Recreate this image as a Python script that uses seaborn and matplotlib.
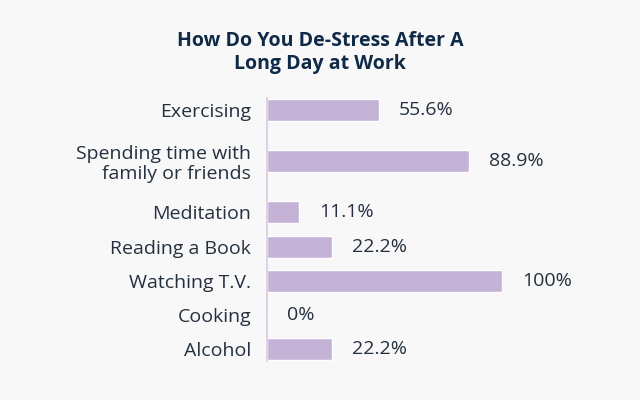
import numpy as np
import pandas as pd
import matplotlib
matplotlib.use("Agg")
import matplotlib.pyplot as plt
import seaborn as sns

# data
activities = ["Exercising", "Spending time with\nfamily or friends", "Meditation",
              "Reading a Book", "Watching T.V.", "Cooking", "Alcohol"]
bar_lengths = [47.7, 86.0, 13.6, 27.7, 100.0, 0.0, 27.7]   # drawn bar length, % of axis
value_labels = ["55.6%", "88.9%", "11.1%", "22.2%", "100%", "0%", "22.2%"]

BG = "#f8f8f8"
BAR = "#c5b3d7"
TEXT = "#24303f"
TITLE = "#0e2a47"

# row centres: single-line rows are 34 px apart, two-line rows take extra room
lines = [a.count("\n") + 1 for a in activities]
ypos = [0.0]
for prev, cur in zip(lines[:-1], lines[1:]):
    ypos.append(ypos[-1] + 34 + 17 * (prev - 1) + 17 * (cur - 1))

df = pd.DataFrame({"activity": activities, "value": bar_lengths, "y": ypos})

sns.set_theme(style="white")
plt.rcParams["font.family"] = ["Open Sans", "DejaVu Sans"]

fig = plt.figure(figsize=(6.4, 4.0), dpi=100, facecolor=BG)
# axes: x from 267 px to 502 px, y from 98 px to 361 px (top-down)
ax = fig.add_axes([267 / 640, 39 / 400, 235 / 640, 263 / 400], facecolor=BG)

sns.barplot(data=df, x="value", y="y", orient="h", native_scale=True,
            width=22 / 34, color=BAR, saturation=1, ax=ax)

ax.set_xlim(0, 100)
ax.set_ylim(ypos[-1] + 12, -12)
ax.set_yticks(ypos)
ax.set_yticklabels(activities, fontsize=14, color=TEXT, linespacing=1.15)
ax.tick_params(axis="y", length=0, pad=11.5)
ax.set_xticks([])
ax.set_xlabel("")
ax.set_ylabel("")
for side in ["top", "right", "bottom"]:
    ax.spines[side].set_visible(False)
ax.spines["left"].set_color("#d6cce2")
ax.spines["left"].set_linewidth(1.2)

for v, lab, y in zip(bar_lengths, value_labels, ypos):
    ax.annotate(lab, xy=(v, y), xytext=(14.5, 0), textcoords="offset points",
                ha="left", va="center", fontsize=14, color=TEXT, clip_on=False)

fig.text(0.5, 1 - 52 / 400, "How Do You De-Stress After A\nLong Day at Work",
         ha="center", va="center", fontsize=14, fontweight="bold",
         color=TITLE, linespacing=1.2)

fig.savefig("out.png", dpi=100, facecolor=BG)
